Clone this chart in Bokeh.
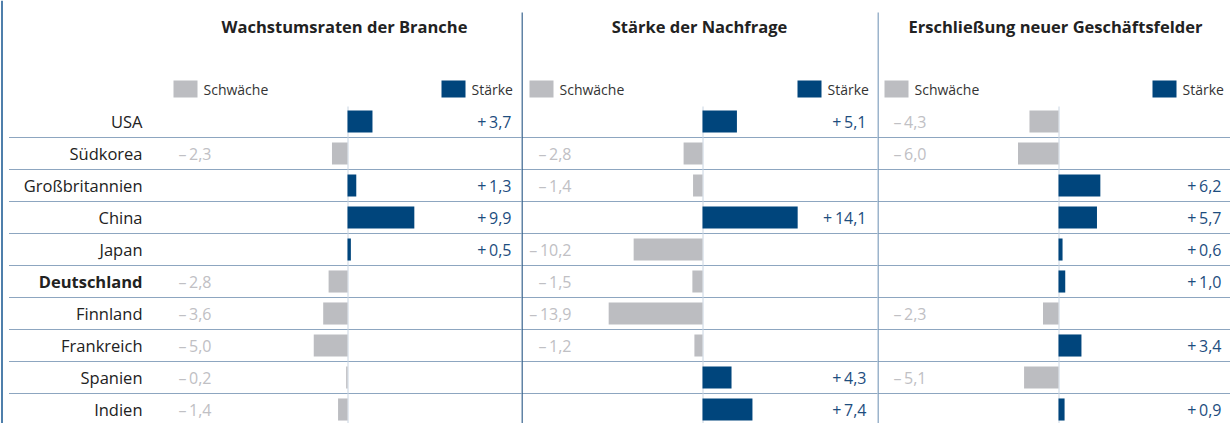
from bokeh.plotting import figure
from bokeh.layouts import row
from bokeh.models import Range1d, ColumnDataSource
from bokeh.core.properties import value
from bokeh.embed import file_html
from bokeh.resources import INLINE

# ---------------- data ----------------
countries = ["USA", "Südkorea", "Großbritannien", "China", "Japan",
             "Deutschland", "Finnland", "Frankreich", "Spanien", "Indien"]
wachstum = [3.7, -2.3, 1.3, 9.9, 0.5, -2.8, -3.6, -5.0, -0.2, -1.4]
nachfrage = [5.1, -2.8, -1.4, 14.1, -10.2, -1.5, -13.9, -1.2, 4.3, 7.4]
erschliessung = [-4.3, -6.0, 6.2, 5.7, 0.6, 1.0, -2.3, 3.4, -5.1, 0.9]
titles = ["Wachstumsraten der Branche", "Stärke der Nachfrage",
          "Erschließung neuer Geschäftsfelder"]
legend_labels = ["Schwäche", "Stärke"]
highlight = "Deutschland"
series = [wachstum, nachfrage, erschliessung]

# ---------------- style / layout ----------------
FONT = "Open Sans"
PPU = 6.75          # pixels per unit
H = 423
ROW_PX = 32
ROW0_PX = 121
POS_COLOR, NEG_COLOR = "#00457c", "#bcbdc1"
POS_TEXT, NEG_TEXT = "#1d4d7e", "#c0c0c4"
DIV_COLOR = "#1a4c80"
ZERO_COLOR = "#c8d4e1"

panels = [
    dict(width=521, zero=347, neg_right=211, pos_right=511, leg_neg=173, leg_pos=441, sep=None),
    dict(width=356, zero=181, neg_right=50, pos_right=345, leg_neg=8, leg_pos=276, sep="#2c5a87"),
    dict(width=353, zero=181, neg_right=49, pos_right=344, leg_neg=7, leg_pos=275, sep="#7b9bbb"),
]


def ry(px):
    return (px - ROW0_PX) / ROW_PX


def fmt(v):
    s = f"{abs(v):.1f}".replace(".", ",")
    return ("+\u2009" if v >= 0 else "\u2013\u2009") + s


figs = []
n = len(countries)
for k, (cfg, vals, title) in enumerate(zip(panels, series, titles)):
    zero = cfg["zero"]

    def rx(px, zero=zero):
        return (px - zero) / PPU

    p = figure(width=cfg["width"], height=H, output_backend="svg", toolbar_location=None,
               x_range=Range1d(rx(0), rx(cfg["width"])),
               y_range=Range1d(ry(H), ry(0)),
               x_axis_type=None, y_axis_type=None,
               min_border=0, min_border_left=0, min_border_right=0,
               min_border_top=0, min_border_bottom=0,
               outline_line_color=None, background_fill_color="white",
               border_fill_color="white")
    p.xgrid.visible = False
    p.ygrid.visible = False

    idx = list(range(n))
    # row dividers
    p.segment(x0=rx(9 if k == 0 else 0), x1=rx(cfg["width"]),
              y0=[i + 0.5 for i in range(n - 1)], y1=[i + 0.5 for i in range(n - 1)],
              line_color=DIV_COLOR, line_width=1, line_dash="1 1")
    # zero line
    p.segment(x0=rx(zero + 0.5), x1=rx(zero + 0.5), y0=ry(106), y1=ry(H),
              line_color=ZERO_COLOR, line_width=1)

    src = ColumnDataSource(dict(
        y=idx, v=vals,
        color=[POS_COLOR if v >= 0 else NEG_COLOR for v in vals],
        tcolor=[POS_TEXT if v >= 0 else NEG_TEXT for v in vals],
        tx=[rx(cfg["pos_right"]) if v >= 0 else rx(cfg["neg_right"]) for v in vals],
        label=[fmt(v) for v in vals],
    ))
    p.hbar(y="y", left=0, right="v", height=0.69, fill_color="color",
           line_color=None, source=src)
    p.text(x="tx", y="y", text="label", text_color="tcolor", text_align="right",
           text_baseline="middle", text_font=value(FONT), text_font_size="16px", source=src)

    # title
    p.text(x=[rx(zero - 3)], y=[ry(26)], text=[title], text_align="center",
           text_baseline="middle", text_font=value(FONT), text_font_size="16.5px",
           text_font_style="bold", text_color="#222222")

    # legend
    for lx, lab, col in [(cfg["leg_neg"], legend_labels[0], NEG_COLOR),
                         (cfg["leg_pos"], legend_labels[1], POS_COLOR)]:
        p.rect(x=[rx(lx + 12)], y=[ry(88.5)], width=24, height=17,
               width_units="screen", height_units="screen",
               fill_color=col, line_color=None)
        p.text(x=[rx(lx + 30)], y=[ry(89)], text=[lab], text_align="left",
               text_baseline="middle", text_font=value(FONT), text_font_size="14px",
               text_color="#333333")

    # separator
    if cfg["sep"]:
        p.segment(x0=rx(0.5), x1=rx(0.5), y0=ry(12), y1=ry(H),
                  line_color=cfg["sep"], line_width=1.5)
    else:
        p.segment(x0=rx(1.5), x1=rx(1.5), y0=ry(0), y1=ry(H),
                  line_color="#4f7fab", line_width=2)

    # country labels
    if k == 0:
        csrc = ColumnDataSource(dict(
            y=idx, name=countries,
            style=["bold" if c == highlight else "normal" for c in countries],
        ))
        p.text(x=rx(142), y="y", text="name", text_align="right",
               text_baseline="middle", text_font=value(FONT), text_font_size="16.5px",
               text_font_style="style", text_color="#222222", source=csrc)
    figs.append(p)

layout = row(*figs, spacing=0)
open("out.html", "w").write(file_html(layout, INLINE))
